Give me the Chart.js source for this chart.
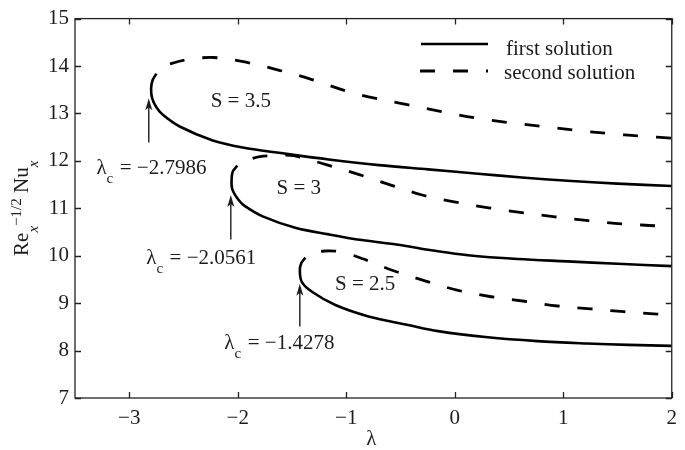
<!DOCTYPE html>
<html><head><meta charset="utf-8">
<script src="https://cdn.jsdelivr.net/npm/chart.js@4/dist/chart.umd.min.js"></script>
<style>html,body{margin:0;padding:0;background:#fff}#wrap{width:685px;height:450px;position:relative}</style>
</head><body><div id="wrap"><canvas id="c"></canvas></div>
<script>
// ---- data ----
const xTicks = [-3, -2, -1, 0, 1, 2];
const yTicks = [7, 8, 9, 10, 11, 12, 13, 14, 15];

// S = 3.5
const s35FirstX  = [-2.75, -2.785, -2.7986, -2.79, -2.75, -2.69, -2.54, -2.23, -1.93, -1.62, -1.16, -0.70, -0.245, 0.214, 0.62, 1.04, 1.50, 2.0];
const s35FirstY  = [13.84, 13.70, 13.53, 13.33, 13.13, 12.97, 12.73, 12.43, 12.27, 12.17, 12.03, 11.91, 11.82, 11.73, 11.65, 11.58, 11.52, 11.47];
const s35SecondX = [-2.75, -2.70, -2.615, -2.477, -2.227, -1.924, -1.617, -1.323, -1.011, -0.795, -0.428, -0.123, 0.183, 0.489, 0.794, 1.10, 1.406, 1.727, 2.0];
const s35SecondY = [13.84, 13.96, 14.05, 14.13, 14.18, 14.08, 13.91, 13.72, 13.48, 13.35, 13.18, 13.04, 12.91, 12.81, 12.73, 12.65, 12.58, 12.52, 12.48];

// S = 3
const s3FirstX  = [-2.004, -2.045, -2.0561, -2.05, -1.99, -1.93, -1.77, -1.47, -1.16, -0.857, -0.52, -0.2, 0.122, 0.58, 1.04, 1.50, 2.0];
const s3FirstY  = [11.90, 11.78, 11.64, 11.40, 11.17, 11.04, 10.83, 10.59, 10.45, 10.33, 10.23, 10.11, 10.01, 9.93, 9.88, 9.83, 9.78];
const s3SecondX = [-2.004, -1.95, -1.88, -1.797, -1.62, -1.483, -1.185, -0.88, -0.589, -0.30, 0.007, 0.313, 0.619, 0.925, 1.23, 1.55, 1.86, 2.0];
const s3SecondY = [11.90, 11.98, 12.04, 12.09, 12.12, 12.11, 11.92, 11.71, 11.49, 11.28, 11.13, 11.01, 10.91, 10.82, 10.74, 10.67, 10.63, 10.60];

// S = 2.5
const s25FirstX  = [-1.376, -1.415, -1.4278, -1.41, -1.316, -1.10, -0.795, -0.43, -0.153, 0.305, 0.76, 1.22, 1.60, 2.0];
const s25FirstY  = [9.96, 9.84, 9.69, 9.45, 9.24, 8.96, 8.72, 8.54, 8.41, 8.28, 8.20, 8.15, 8.12, 8.10];
const s25SecondX = [-1.376, -1.30, -1.20, -1.05, -0.84, -0.584, -0.26, 0.03, 0.336, 0.642, 0.948, 1.253, 1.56, 1.865, 2.0];
const s25SecondY = [9.96, 10.05, 10.10, 10.08, 9.93, 9.70, 9.46, 9.27, 9.135, 9.04, 8.94, 8.88, 8.82, 8.77, 8.75];

// annotations (data coordinates)
const sLabels   = ['S = 3.5', 'S = 3', 'S = 2.5'];
const sLabelX   = [-1.972, -1.438, -0.826];
const sLabelY   = [13.145, 11.31, 9.27];
const critVals  = ['−2.7986', '−2.0561', '−1.4278'];
const critX     = [-2.777, -2.318, -1.598];
const critY     = [11.73, 9.83, 8.03];
const arrowX    = [-2.82, -2.064, -1.428];
const arrowTipY = [13.32, 11.28, 9.41];
const arrowTailY= [12.39, 10.34, 8.51];

const legendLabels = ['first solution', 'second solution'];

// ---- rendering ----
const FONT = "'Liberation Serif','Times New Roman',serif";
const INK = '#1c1c1c';
const zip = (xs, ys) => xs.map((x, i) => ({x, y: ys[i]}));
const fmt = v => (v < 0 ? '−' + Math.abs(v) : String(v));

function solid(xs, ys) {
  return {data: zip(xs, ys), showLine: true, borderColor: '#000', borderWidth: 2.6,
          pointRadius: 0, tension: 0.35, fill: false};
}
function dashed(xs, ys) {
  return {data: zip(xs, ys), showLine: true, borderColor: '#000', borderWidth: 2.8,
          borderDash: [15, 18], borderDashOffset: 16, pointRadius: 0, tension: 0.35, fill: false};
}

const decor = {
  id: 'decor',
  afterDraw(chart) {
    const ctx = chart.ctx, a = chart.chartArea, xs = chart.scales.x, ys = chart.scales.y;
    ctx.save();
    // frame
    ctx.strokeStyle = '#222'; ctx.lineWidth = 1.3;
    ctx.strokeRect(a.left, a.top, a.right - a.left, a.bottom - a.top);
    // inward ticks
    ctx.beginPath();
    xTicks.forEach(v => {
      const p = Math.round(xs.getPixelForValue(v)) + 0.5;
      ctx.moveTo(p, a.bottom); ctx.lineTo(p, a.bottom - 6);
      ctx.moveTo(p, a.top); ctx.lineTo(p, a.top + 6);
    });
    yTicks.forEach(v => {
      const p = Math.round(ys.getPixelForValue(v)) + 0.5;
      ctx.moveTo(a.left, p); ctx.lineTo(a.left + 6, p);
      ctx.moveTo(a.right, p); ctx.lineTo(a.right - 6, p);
    });
    ctx.stroke();

    ctx.fillStyle = INK; ctx.textBaseline = 'alphabetic';
    // S labels
    ctx.font = `21px ${FONT}`; ctx.textAlign = 'center';
    sLabels.forEach((t, i) => ctx.fillText(t, xs.getPixelForValue(sLabelX[i]), ys.getPixelForValue(sLabelY[i])));
    // critical labels
    critVals.forEach((val, i) => {
      const cx = xs.getPixelForValue(critX[i]), by = ys.getPixelForValue(critY[i]);
      ctx.font = `21px ${FONT}`; const wL = ctx.measureText('λ').width;
      const rest = '  = ' + val; const wR = ctx.measureText(rest).width;
      ctx.font = `15px ${FONT}`; const wC = ctx.measureText('c').width;
      let x = cx - (wL + wC + wR) / 2;
      ctx.textAlign = 'left';
      ctx.font = `21px ${FONT}`; ctx.fillText('λ', x, by); x += wL;
      ctx.font = `15px ${FONT}`; ctx.fillText('c', x, by + 9); x += wC;
      ctx.font = `21px ${FONT}`; ctx.fillText(rest, x - 4, by);
    });
    // arrows
    ctx.strokeStyle = INK; ctx.lineWidth = 1.4;
    arrowX.forEach((v, i) => {
      const x = xs.getPixelForValue(v), t = ys.getPixelForValue(arrowTipY[i]), b = ys.getPixelForValue(arrowTailY[i]);
      ctx.beginPath(); ctx.moveTo(x, b); ctx.lineTo(x, t + 6); ctx.stroke();
      ctx.beginPath(); ctx.moveTo(x, t); ctx.lineTo(x - 3.5, t + 12); ctx.lineTo(x, t + 9); ctx.lineTo(x + 3.5, t + 12); ctx.closePath(); ctx.fill();
    });
    // legend
    ctx.strokeStyle = '#000';
    ctx.lineWidth = 2.6; ctx.beginPath(); ctx.moveTo(421, 44); ctx.lineTo(488, 44); ctx.stroke();
    ctx.lineWidth = 2.8; ctx.setLineDash([15, 18]); ctx.beginPath(); ctx.moveTo(420, 71); ctx.lineTo(488, 71); ctx.stroke();
    ctx.setLineDash([]);
    ctx.font = `21px ${FONT}`; ctx.textAlign = 'left';
    ctx.fillText(legendLabels[0], 506, 55);
    ctx.fillText(legendLabels[1], 504, 79);
    // x title
    ctx.textAlign = 'center';
    ctx.fillText('λ', (a.left + a.right) / 2 - 2, 445);
    // y title (rotated)
    const segs = [
      {t: 'Re', s: 21, dy: 0}, {t: 'x', s: 15, dy: 10, it: true}, {t: '−1/2', s: 15, dy: -7},
      {t: ' Nu', s: 21, dy: 0}, {t: 'x', s: 15, dy: 10, it: true}
    ];
    let total = 0;
    segs.forEach(g => { ctx.font = `${g.it ? 'italic ' : ''}${g.s}px ${FONT}`; g.w = ctx.measureText(g.t).width; total += g.w; });
    ctx.translate(28, (a.top + a.bottom) / 2); ctx.rotate(-Math.PI / 2);
    ctx.textAlign = 'left';
    let x = -total / 2;
    segs.forEach(g => { ctx.font = `${g.it ? 'italic ' : ''}${g.s}px ${FONT}`; ctx.fillText(g.t, x, g.dy); x += g.w; });
    ctx.restore();
  }
};

new Chart(document.getElementById('c'), {
  type: 'scatter',
  data: {datasets: [
    solid(s35FirstX, s35FirstY), dashed(s35SecondX, s35SecondY),
    solid(s3FirstX, s3FirstY), dashed(s3SecondX, s3SecondY),
    solid(s25FirstX, s25FirstY), dashed(s25SecondX, s25SecondY)
  ]},
  options: {
    responsive: true, maintainAspectRatio: false, animation: false,
    layout: {padding: {left: 0, top: 12, right: 10, bottom: 0}},
    plugins: {legend: {display: false}, tooltip: {enabled: false}},
    scales: {
      x: {type: 'linear', min: -3.5, max: 2,
          afterBuildTicks: s => { s.ticks = xTicks.map(v => ({value: v})); },
          afterFit: s => { s.height = 52; },
          grid: {display: false, drawTicks: false}, border: {display: false},
          ticks: {padding: 8, color: INK, font: {family: FONT, size: 21}, maxRotation: 0, callback: fmt}},
      y: {type: 'linear', min: 7, max: 15,
          afterBuildTicks: s => { s.ticks = yTicks.map(v => ({value: v})); },
          afterFit: s => { s.width = 75; },
          grid: {display: false, drawTicks: false}, border: {display: false},
          ticks: {padding: 6, color: INK, font: {family: FONT, size: 21}, callback: fmt}}
    }
  },
  plugins: [decor]
});
</script></body></html>
